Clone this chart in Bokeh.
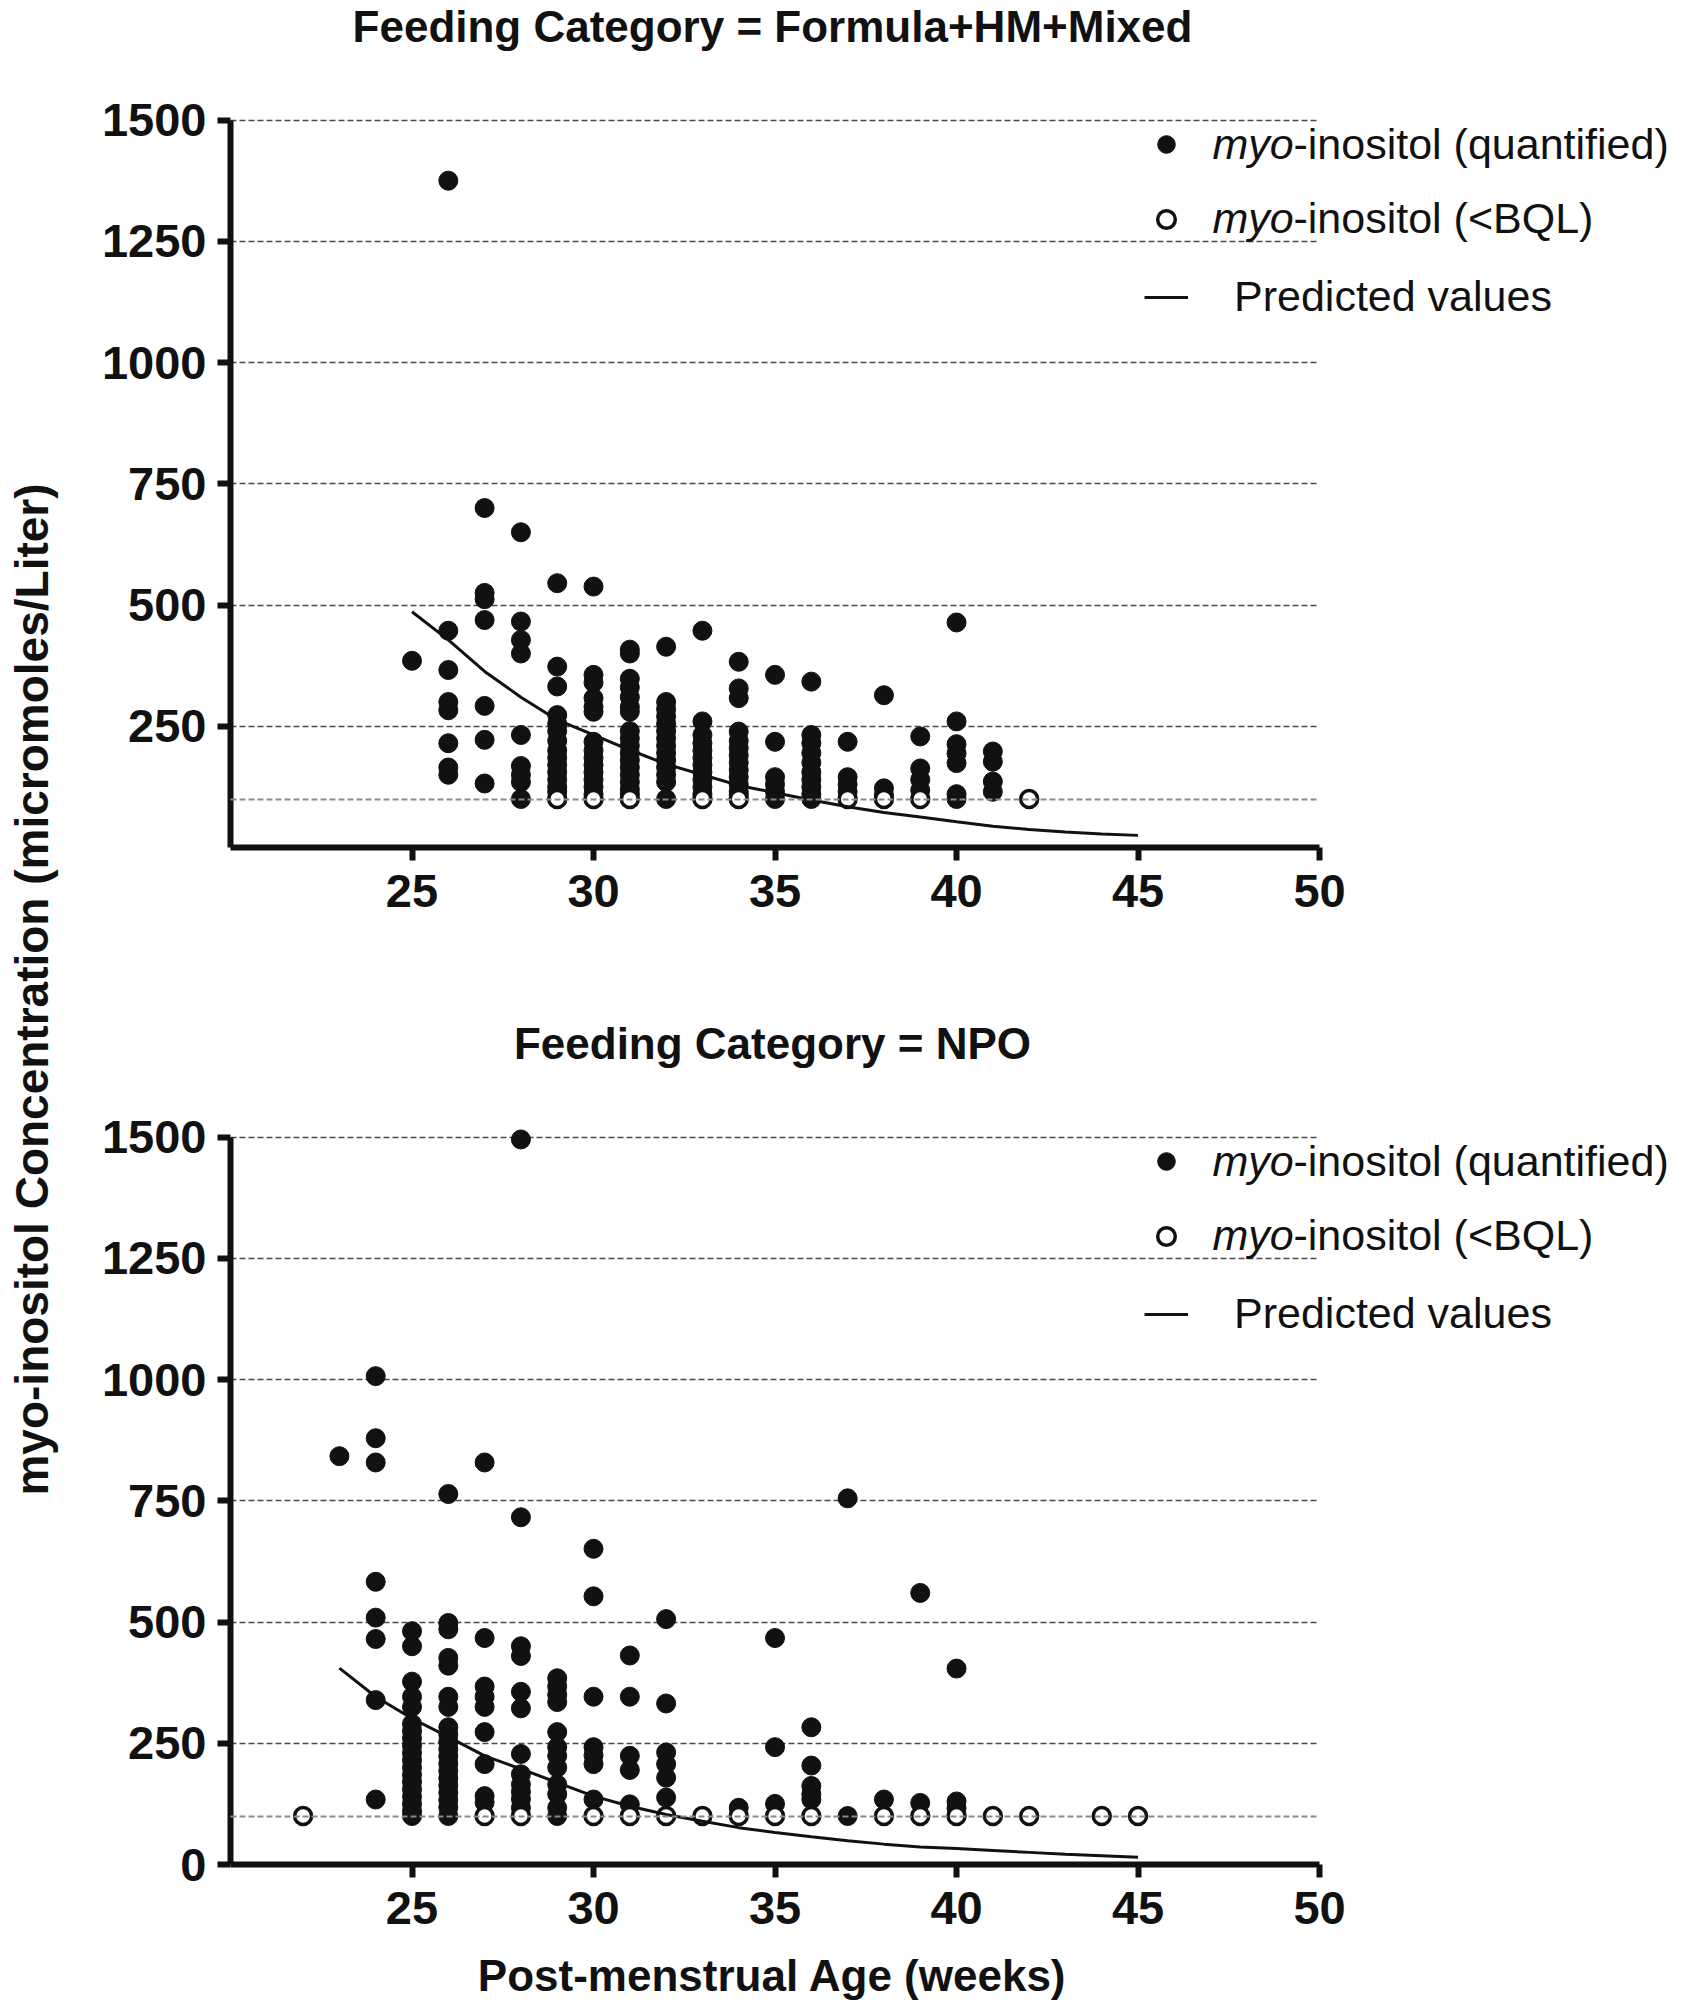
from math import pi

from bokeh.plotting import figure
from bokeh.layouts import row, column
from bokeh.models import FixedTicker, Grid, Legend, LegendItem, Label
from bokeh.embed import file_html
from bokeh.resources import INLINE

# values
x_ticks = [25, 30, 35, 40, 45, 50]
y_ticks_top = [250, 500, 750, 1000, 1250, 1500]
y_ticks_bottom = [0, 250, 500, 750, 1000, 1250, 1500]
bql_level = 100

# Feeding Category = Formula+HM+Mixed
formula_ages = [25, 26, 27, 28, 29, 30, 31, 32, 33, 34, 35, 36, 37, 38, 39, 40, 41]
formula_values = [
    [385],
    [1375, 447, 366, 300, 283, 215, 165, 150],
    [700, 525, 512, 469, 292, 222, 132],
    [650, 466, 428, 400, 232, 168, 150, 135, 100],
    [545, 373, 332, 273, 255, 240, 220, 200, 185, 170, 155, 140, 125, 115],
    [538, 356, 340, 308, 290, 280, 218, 200, 185, 170, 155, 140, 125, 110],
    [408, 400, 348, 330, 310, 290, 280, 240, 225, 210, 195, 180, 165, 150, 135, 120, 110],
    [414, 300, 285, 270, 255, 240, 225, 210, 195, 180, 165, 150, 135, 100],
    [447, 260, 232, 215, 200, 185, 170, 155, 140, 125, 110],
    [383, 328, 308, 239, 220, 205, 190, 175, 160, 145, 130, 115, 108],
    [356, 218, 145, 130, 115, 100],
    [342, 232, 215, 195, 175, 155, 140, 125, 110, 100],
    [218, 145, 130, 115],
    [314, 122, 108],
    [229, 163, 140, 118],
    [464, 260, 213, 194, 174, 110, 100],
    [198, 177, 136, 115],
]
formula_bql_ages = [29, 30, 31, 33, 34, 37, 38, 39, 42]
formula_pred_ages = [25, 26, 27, 28, 29, 30, 31, 32, 33, 34, 35,
                     36, 37, 38, 39, 40, 41, 42, 43, 44, 45]
formula_pred_values = [486, 428, 363, 310, 263, 232, 201, 172, 150, 128, 113,
                       98, 84, 72, 63, 53, 44, 37, 32, 28, 25]

# Feeding Category = NPO
npo_ages = [23, 24, 25, 26, 27, 28, 29, 30, 31, 32, 34, 35, 36, 37, 38, 39, 40]
npo_values = [
    [842],
    [1007, 879, 829, 583, 509, 465, 339, 134],
    [481, 450, 377, 346, 325, 290, 275, 260, 245, 230, 215, 200, 185, 170, 155, 140, 125, 110, 100],
    [764, 498, 485, 426, 410, 346, 325, 283, 268, 253, 238, 223, 208, 193, 178, 163, 148, 133, 118, 100],
    [829, 467, 367, 346, 325, 273, 207, 141, 128],
    [1495, 716, 450, 430, 356, 322, 228, 186, 165, 150, 135, 117],
    [384, 367, 350, 335, 273, 242, 224, 200, 165, 145, 117, 100],
    [651, 553, 346, 242, 225, 207, 134],
    [431, 346, 224, 195, 124],
    [506, 332, 231, 207, 179, 138],
    [117],
    [467, 242, 125],
    [283, 204, 162, 145, 134],
    [755, 100],
    [134],
    [560, 127],
    [404, 130, 116],
]
npo_bql_ages = [22, 27, 28, 30, 31, 32, 33, 34, 35, 36, 38, 39, 40, 41, 42, 44, 45]
npo_pred_ages = [23, 24, 25, 26, 27, 28, 29, 30, 31, 32, 33, 34,
                 35, 36, 37, 38, 39, 40, 41, 42, 43, 44, 45]
npo_pred_values = [405, 346, 301, 263, 224, 197, 169, 141, 120, 103, 89, 76,
                   66, 57, 49, 42, 36, 33, 29, 25, 21, 18, 15]

FONT = "Liberation Sans"
INK = "#111111"
X_AXIS = (20, 50)
Y_AXIS = (0, 1500)
FRAME_WIDTH = 1447
AXIS_CENTER = 542   # middle of the 20..50 axis, in px from the frame's left edge


def flatten(ages, values):
    xs, ys = [], []
    for age, vals in zip(ages, values):
        for v in vals:
            xs.append(age)
            ys.append(v)
    return xs, ys


def limit_grid(grid):
    # keep the dashed lines inside the axis extent, the legend sits to the right
    if "cross_bounds" in grid.properties():
        grid.cross_bounds = X_AXIS


def blank_strip(width, height):
    s = figure(x_range=(0, width), y_range=(0, height),
               frame_width=width, frame_height=height,
               x_axis_type=None, y_axis_type=None, min_border=0,
               output_backend="svg", toolbar_location=None, tools="")
    s.outline_line_color = None
    return s


def text_strip(text, height, y_pos):
    # column aligns this strip's frame with the plot frames below it
    s = blank_strip(FRAME_WIDTH, height)
    s.add_layout(Label(x=AXIS_CENTER, y=y_pos, text=text, text_font=FONT,
                       text_font_size="44px", text_font_style="bold",
                       text_color=INK, text_align="center",
                       text_baseline="middle"))
    return s


def make_panel(ages, values, bql_ages, pred_ages, pred_values,
               y_ticks, border_top, border_bottom):
    # frame is wider than the axis so the legend text is not clipped
    p = figure(x_range=(20, 59.86), y_range=(0, 1530),
               frame_width=FRAME_WIDTH, frame_height=742,
               min_border_left=160, min_border_right=0,
               min_border_top=border_top, min_border_bottom=border_bottom,
               output_backend="svg", toolbar_location=None, tools="")
    p.outline_line_color = None
    p.background_fill_color = "white"
    p.border_fill_color = "white"

    for ax in (p.xaxis, p.yaxis):
        ax.axis_line_width = 6
        ax.axis_line_color = INK
        ax.major_tick_line_width = 6
        ax.major_tick_line_color = INK
        ax.major_tick_out = 13
        ax.major_tick_in = 0
        ax.minor_tick_line_color = None
        ax.major_label_text_font = FONT
        ax.major_label_text_font_style = "bold"
        ax.major_label_text_font_size = "47px"
        ax.major_label_text_color = INK
    p.xaxis.ticker = FixedTicker(ticks=x_ticks)
    p.yaxis.ticker = FixedTicker(ticks=y_ticks)
    p.xaxis.bounds = X_AXIS
    p.yaxis.bounds = Y_AXIS
    p.yaxis.major_label_standoff = 11
    p.xaxis.major_label_standoff = 14

    p.xgrid.visible = False
    p.ygrid.ticker = FixedTicker(ticks=y_ticks)
    p.ygrid.grid_line_color = "#4a4a4a"
    p.ygrid.grid_line_dash = "6 3"
    p.ygrid.grid_line_width = 1.5
    limit_grid(p.ygrid[0])

    # dashed line at the quantification limit, drawn over the points
    bql_grid = Grid(dimension=1, ticker=FixedTicker(ticks=[bql_level]),
                    grid_line_color="#8a8a8a", grid_line_dash="6 3",
                    grid_line_width=2, level="annotation")
    limit_grid(bql_grid)
    p.add_layout(bql_grid)

    qx, qy = flatten(ages, values)
    quantified = p.scatter(qx, qy, marker="circle", size=19,
                           fill_color=INK, line_color=INK)
    below = p.scatter(bql_ages, [bql_level] * len(bql_ages), marker="circle",
                      size=17, fill_color="white", line_color=INK, line_width=3.5)
    predicted = p.line(pred_ages, pred_values, line_color=INK, line_width=3)

    legend = Legend(items=[
        LegendItem(label=" ", renderers=[quantified]),
        LegendItem(label=" ", renderers=[below]),
        LegendItem(label="Predicted values", renderers=[predicted]),
    ], location=(914, 526), glyph_width=44, glyph_height=44,
        label_text_font=FONT, label_text_font_size="43px",
        label_text_color=INK, label_standoff=46, spacing=31,
        padding=0, margin=0, border_line_color=None,
        background_fill_alpha=0)
    p.add_layout(legend)

    for y_pos, rest in ((1451, "-inositol (quantified)"), (1297, "-inositol (<BQL)")):
        p.add_layout(Label(x=47.05, y=y_pos, text="myo", text_font=FONT,
                           text_font_size="43px", text_font_style="italic",
                           text_color=INK, text_baseline="middle"))
        p.add_layout(Label(x=47.05, y=y_pos, x_offset=81, text=rest,
                           text_font=FONT, text_font_size="43px",
                           text_color=INK, text_baseline="middle"))
    return p


top_title = text_strip("Feeding Category = Formula+HM+Mixed", 60, 34)
top = make_panel(formula_ages, formula_values, formula_bql_ages,
                 formula_pred_ages, formula_pred_values,
                 y_ticks_top, 45, 153)
bottom_title = text_strip("Feeding Category = NPO", 80, 37)
bottom = make_panel(npo_ages, npo_values, npo_bql_ages,
                    npo_pred_ages, npo_pred_values,
                    y_ticks_bottom, 42, 82)
x_title = text_strip("Post-menstrual Age (weeks)", 54, 25)

ylab = blank_strip(70, 2000)
ylab.add_layout(Label(x=31, y=1011, angle=pi / 2,
                      text="myo-inositol Concentration (micromoles/Liter)",
                      text_font=FONT, text_font_size="46px",
                      text_font_style="bold", text_color=INK,
                      text_align="center", text_baseline="middle"))

layout = row(ylab, column(top_title, top, bottom_title, bottom, x_title))

open("out.html", "w").write(file_html(layout, INLINE, "myo-inositol"))
